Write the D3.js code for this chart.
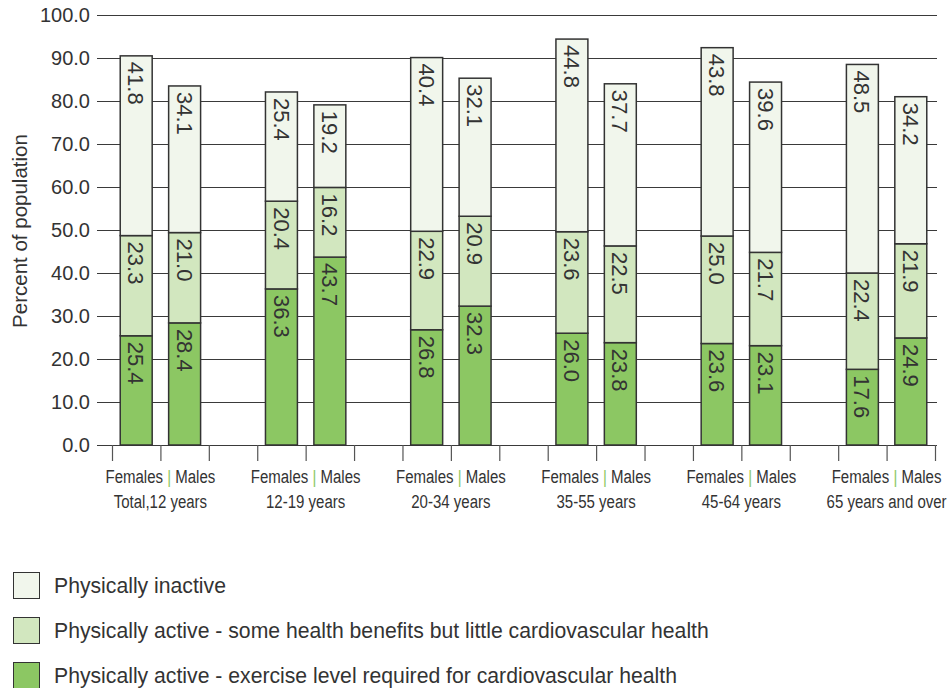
<!DOCTYPE html>
<html>
<head>
<meta charset="utf-8">
<script src="https://cdn.jsdelivr.net/npm/d3@7/dist/d3.min.js"></script>
<style>
  html, body { margin: 0; padding: 0; background: #fff; }
  svg { display: block; }
</style>
</head>
<body>
<svg id="chart" width="951" height="688"></svg>
<script>
// ---- data ----
const groups = ["Total,12 years", "12-19 years", "20-34 years", "35-55 years", "45-64 years", "65 years and over"];
const sexes = ["Females", "Males"];
const seriesNames = [
  "Physically active - exercise level required for cardiovascular health",
  "Physically active - some health benefits but little cardiovascular health",
  "Physically inactive"
];
const femalesExercise = [25.4, 36.3, 26.8, 26.0, 23.6, 17.6];
const femalesSome     = [23.3, 20.4, 22.9, 23.6, 25.0, 22.4];
const femalesInactive = [41.8, 25.4, 40.4, 44.8, 43.8, 48.5];
const malesExercise   = [28.4, 43.7, 32.3, 23.8, 23.1, 24.9];
const malesSome       = [21.0, 16.2, 20.9, 22.5, 21.7, 21.9];
const malesInactive   = [34.1, 19.2, 32.1, 37.7, 39.6, 34.2];
const yTicks = [0, 10, 20, 30, 40, 50, 60, 70, 80, 90, 100];
const legendOrder = [2, 1, 0];

// ---- styles ----
const colors = ["#8cc763", "#d2e7bf", "#f1f6ec"];
const textColor = "#333";
const baseFont = "Arial, 'Liberation Sans', Helvetica, sans-serif";
const svg = d3.select("#chart");

// rows: one per bar
const rows = [];
groups.forEach((g, gi) => {
  rows.push({ group: g, gi, si: 0, slot: gi * 3, vals: [femalesExercise[gi], femalesSome[gi], femalesInactive[gi]] });
  rows.push({ group: g, gi, si: 1, slot: gi * 3 + 1, vals: [malesExercise[gi], malesSome[gi], malesInactive[gi]] });
});
const nSlots = groups.length * 3 - 1;

const x = d3.scaleBand().domain(d3.range(nSlots)).range([112, 935]).padding(0);
const xEdges = d3.scaleLinear().domain([0, nSlots]).range([112, 935]);
const y = d3.scaleLinear().domain([0, 100]).range([445, 15]);
const gridLeft = 97, gridRight = 937;
const barW = x.bandwidth() * 0.66;

// y axis with gridlines
const yAxis = svg.append("g")
  .attr("transform", `translate(${gridLeft},0)`)
  .call(d3.axisLeft(y).tickValues(yTicks).tickFormat(d3.format(".1f"))
    .tickSizeInner(-(gridRight - gridLeft)).tickSizeOuter(0).tickPadding(7));
yAxis.select(".domain").remove();
yAxis.selectAll(".tick line").attr("stroke", "#3a3a3a").attr("stroke-width", 1);
yAxis.selectAll(".tick text")
  .attr("fill", textColor)
  .style("font-family", baseFont)
  .style("font-size", "20px");

// x tick marks at slot edges
const xAxis = svg.append("g")
  .attr("transform", `translate(0,${y(0)})`)
  .call(d3.axisBottom(xEdges).tickValues(d3.range(nSlots + 1)).tickFormat("").tickSizeInner(16).tickSizeOuter(0));
xAxis.select(".domain").remove();
xAxis.selectAll(".tick line").attr("stroke", "#555").attr("stroke-width", 1.2);

// stacked bars
const barG = svg.append("g");
rows.forEach(r => {
  let cum = 0;
  r.vals.forEach((v, k) => {
    const y0 = cum, y1 = cum + v;
    cum = y1;
    const cx = x(r.slot) + x.bandwidth() / 2;
    barG.append("rect")
      .attr("x", cx - barW / 2)
      .attr("y", y(y1))
      .attr("width", barW)
      .attr("height", y(y0) - y(y1))
      .attr("fill", colors[k])
      .attr("stroke", "#333")
      .attr("stroke-width", 1.5);
    barG.append("text")
      .attr("transform", `translate(${cx},${y(y1) + 6}) rotate(90)`)
      .attr("text-anchor", "start")
      .attr("dy", "0.36em")
      .attr("fill", textColor)
      .style("font-family", baseFont)
      .style("font-size", "22px")
      .text(v.toFixed(1));
  });
});

// x labels (condensed look via horizontal scale)
const sx = 0.79;
const labG = svg.append("g")
  .attr("transform", `scale(${sx},1)`)
  .style("font-family", baseFont)
  .attr("fill", textColor);
groups.forEach((g, gi) => {
  const cx = xEdges(gi * 3 + 1) / sx;
  const t = labG.append("text")
    .attr("x", cx).attr("y", 483)
    .attr("text-anchor", "middle")
    .style("font-size", "19px");
  t.append("tspan").text(sexes[0] + " ");
  t.append("tspan").attr("fill", "#8cc763").text("|");
  t.append("tspan").text(" " + sexes[1]);
  labG.append("text")
    .attr("x", cx).attr("y", 508)
    .attr("text-anchor", "middle")
    .style("font-size", "19px")
    .text(g);
});

// y title
svg.append("text")
  .attr("transform", `translate(27,231) rotate(-90)`)
  .attr("text-anchor", "middle")
  .attr("fill", textColor)
  .style("font-family", baseFont)
  .style("font-size", "20.5px")
  .text("Percent of population");

// legend
const leg = svg.append("g");
legendOrder.forEach((k, i) => {
  const yy = 572 + i * 45;
  leg.append("rect")
    .attr("x", 13.5).attr("y", yy + 0.5).attr("width", 26).attr("height", 26)
    .attr("fill", colors[k]).attr("stroke", "#333").attr("stroke-width", 1);
  leg.append("text")
    .attr("x", 54).attr("y", yy + 13.5).attr("dy", "0.36em")
    .attr("fill", textColor)
    .style("font-family", baseFont)
    .style("font-size", "21.2px")
    .text(seriesNames[k]);
});
</script>
</body>
</html>
